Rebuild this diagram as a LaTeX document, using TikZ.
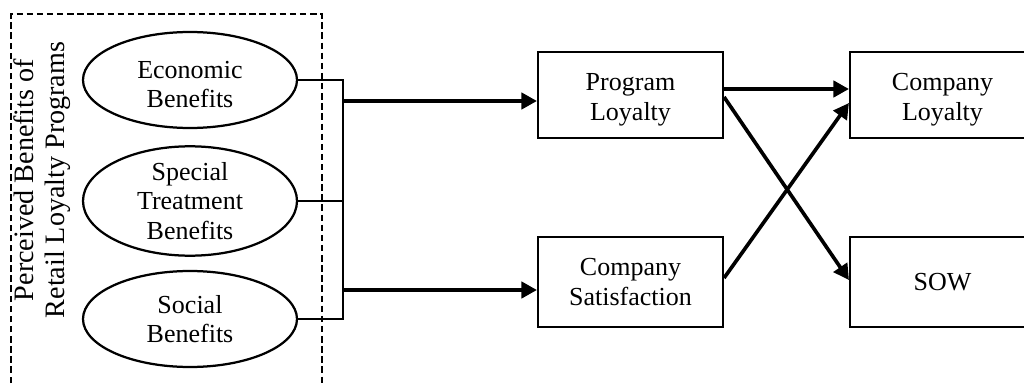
\documentclass[tikz,border=0pt]{standalone}
\usepackage{fontspec}
\setmainfont{Liberation Serif}
\usetikzlibrary{shapes.geometric,arrows.meta}

\begin{document}
\begin{tikzpicture}[line join=miter,>={Triangle[length=11pt,width=11.5pt]},font=\fontsize{18.5}{21}\selectfont]
	\tikzset{benefit/.style={draw,ellipse,line width=1.6pt,minimum width=5.35cm,minimum height=2.4cm,inner sep=0pt,align=center},
		outcome/.style={draw,rectangle,line width=1.5pt,minimum width=4.625cm,minimum height=2.2cm,align=center},
		lowtext/.style={text height=40pt},
		link/.style={->,line width=2.6pt}}
	\useasboundingbox (0,0) rectangle (25.6,9.575);
	% dashed frame, open at the bottom
	\draw[line width=1.3pt,dash pattern=on 4.6pt off 2.6pt] (0.275,0)--(0.275,9.225)--(8.05,9.225)--(8.05,0);
	\node[rotate=90,align=center,font=\fontsize{20}{22}\selectfont] (frame) at (1.05,5.075) {Perceived Benefits of\\Retail Loyalty Programs};
	% benefit ellipses
	\node[benefit,lowtext] (econ) at (4.75,7.575) {Economic\\Benefits};
	\node[benefit] (spec) at (4.75,4.55) {Special\\Treatment\\Benefits};
	\node[benefit] (soc) at (4.75,1.6) {Social\\Benefits};
	% outcome boxes
	\node[outcome,lowtext,minimum height=2.15cm] (prog) at (15.7625,7.2) {Program\\Loyalty};
	\node[outcome,minimum height=2.25cm] (sat) at (15.7625,2.525) {Company\\Satisfaction};
	\node[outcome,lowtext,minimum height=2.15cm] (loyal) at (23.5625,7.2) {Company\\Loyalty};
	\node[outcome,minimum height=2.25cm] (sow) at (23.5625,2.525) {SOW};
	% collecting bus
	\coordinate (bus) at (8.575,0);
	\draw[line width=1.15pt] (econ.east)--(econ.east -| bus)--(soc.east -| bus)--(soc.east);
	\draw[line width=1.15pt] (spec.east)--(spec.east -| bus);
	\coordinate (tap1) at (8.575,7.05);
	\coordinate (tap2) at (8.575,2.325);
	\draw[link] (tap1)--(prog.west |- tap1);
	\draw[link] (tap2)--(sat.west |- tap2);
	% paths between outcomes
	\draw[link] ([yshift=0.15cm]prog.east)--([yshift=0.15cm]loyal.west);
	\draw[link] ([yshift=-0.05cm]prog.east)--([yshift=0.05cm]sow.west);
	\draw[link] ([yshift=0.1cm]sat.east)--([yshift=-0.2cm]loyal.west);
\end{tikzpicture}
\end{document}
